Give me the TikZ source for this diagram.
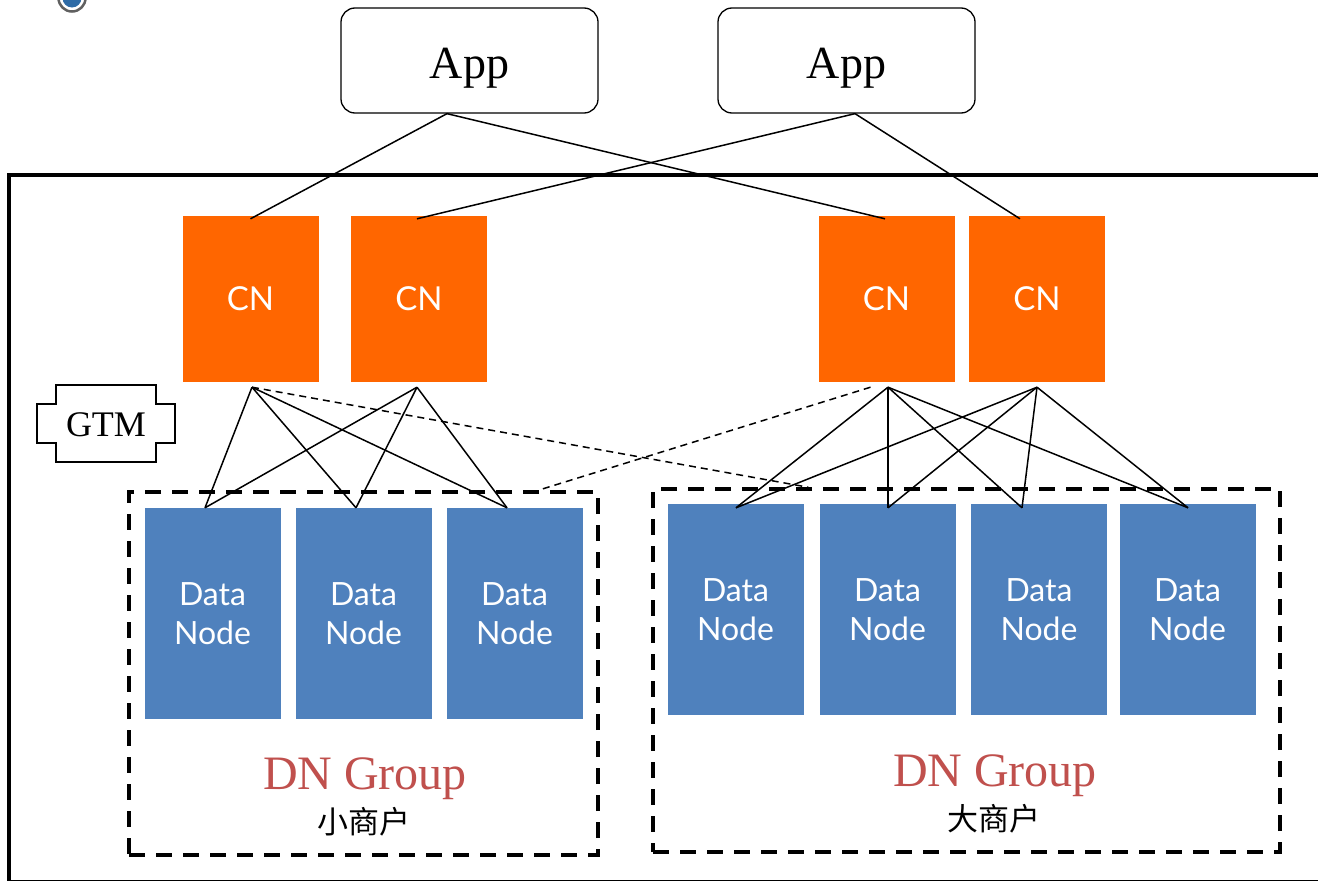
\documentclass[tikz,border=0pt]{standalone}
\usepackage{fontspec}
\setmainfont{Liberation Serif}
\newfontfamily\gillfont{Lato}
\newfontfamily\cjkfont{Noto Sans CJK SC}
\usetikzlibrary{calc}
\definecolor{cnorange}{HTML}{FF6600}
\definecolor{dnblue}{HTML}{4F81BD}
\definecolor{grpred}{HTML}{C0504D}
\definecolor{iconblue}{HTML}{2E6BA6}
\begin{document}
\begin{tikzpicture}[x=1pt,y=-1pt,
  appbox/.style={draw, line width=1.3pt, rounded corners=14pt, minimum width=257pt, minimum height=105pt, inner sep=0pt},
  apptext/.style={font=\fontsize{46}{50}\selectfont, inner sep=0pt, anchor=base},
  cnbox/.style={fill=cnorange, text=white, minimum width=136pt, minimum height=166pt, inner sep=0pt, text depth=0pt, font=\gillfont\fontsize{33}{38}\selectfont},
  dnbox/.style={fill=dnblue, text=white, minimum width=136pt, minimum height=211pt, inner sep=0pt, align=center, font=\gillfont\fontsize{32}{39}\selectfont},
  grpbox/.style={draw, line width=3.5pt, dash pattern=on 16pt off 11pt, inner sep=0pt},
  grptext/.style={text=grpred, font=\fontsize{48}{52}\selectfont, inner sep=0pt, anchor=base},
  cjktext/.style={font=\cjkfont\fontsize{31}{34}\selectfont, inner sep=0pt},
  link/.style={line width=1.5pt},
  dlink/.style={line width=1.5pt, dash pattern=on 7pt off 5pt}
]
\clip (0,0) rectangle (1318,881);
\fill[white] (0,0) rectangle (1318,881);

% top-left icon (partly visible)
\draw[gray!75!black, line width=2.5pt, fill=white] (72,-2) circle (13.5);
\fill[iconblue] (72,-2) circle (9.5);

% outer frame
\draw[line width=3.5pt] (9,175) rectangle (1345,882);

% App boxes
\node[appbox] (app1) at (469.5,60.5) {};
\node[appbox] (app2) at (846.5,60.5) {};
\node[apptext] (app1t) at ([yshift=-17.5pt]app1.center) {App};
\node[apptext] (app2t) at ([yshift=-17.5pt]app2.center) {App};

% CN nodes
\node[cnbox] (cn1) at (250.5,299) {CN};
\node[cnbox] (cn2) at (419,299) {CN};
\node[cnbox] (cn3) at (886.5,299) {CN};
\node[cnbox] (cn4) at (1037,299) {CN};

% GTM
\node[font=\fontsize{36}{40}\selectfont, inner sep=0pt] (gtm) at (106,424.5) {GTM};
\draw[line width=1.5pt, shift={(106,423.5)}]
  (-50,-38.5) -- (50,-38.5) -- (50,-19.5) -- (69,-19.5) -- (69,19.5) -- (50,19.5)
  -- (50,38.5) -- (-50,38.5) -- (-50,19.5) -- (-69,19.5) -- (-69,-19.5) -- (-50,-19.5) -- cycle;

% group boxes
\node[grpbox, minimum width=469pt, minimum height=363pt] (grpL) at (363.5,673.5) {};
\node[grpbox, minimum width=627pt, minimum height=363pt] (grpR) at (966.5,670.5) {};

% Data nodes
\node[dnbox] (dn1) at (212.5,613.5) {Data\\Node};
\node[dnbox] (dn2) at (363.5,613.5) {Data\\Node};
\node[dnbox] (dn3) at (514.5,613.5) {Data\\Node};
\node[dnbox] (dn4) at (735.5,609.5) {Data\\Node};
\node[dnbox] (dn5) at (887.5,609.5) {Data\\Node};
\node[dnbox] (dn6) at (1039,609.5) {Data\\Node};
\node[dnbox] (dn7) at (1187.5,609.5) {Data\\Node};

% group labels
\node[grptext] (gl1) at (365,789) {DN Group};
\node[cjktext] (gl1c) at (364,822) {小商户};
\node[grptext] (gl2) at (995,786) {DN Group};
\node[cjktext] (gl2c) at (994,819) {大商户};

% App -> CN links
\draw[link] ([xshift=-22.5pt]app1.south) -- ([yshift=-3pt]cn1.north);
\draw[link] ([xshift=-22.5pt]app1.south) -- ([xshift=-1.5pt,yshift=-3pt]cn3.north);
\draw[link] ([xshift=8.5pt]app2.south) -- ([xshift=-2pt,yshift=-3pt]cn2.north);
\draw[link] ([xshift=8.5pt]app2.south) -- ([xshift=-17pt,yshift=-3pt]cn4.north);

% anchor points at CN bottoms
\coordinate (c1) at ([xshift=1.5pt,yshift=-5pt]cn1.south);
\coordinate (c2) at ([xshift=-2pt,yshift=-5pt]cn2.south);
\coordinate (c3) at ([xshift=1.5pt,yshift=-5pt]cn3.south);
\coordinate (c4) at ([yshift=-5pt]cn4.south);

% anchor points at DN tops
\coordinate (t1) at ([xshift=-7.5pt]dn1.north);
\coordinate (t2) at ([xshift=-7.5pt]dn2.north);
\coordinate (t3) at ([xshift=-7.5pt]dn3.north);
\coordinate (t4) at ([xshift=0.5pt,yshift=-4pt]dn4.north);
\coordinate (t5) at ([xshift=0.5pt,yshift=-4pt]dn5.north);
\coordinate (t6) at ([xshift=-17pt,yshift=-4pt]dn6.north);
\coordinate (t7) at ([xshift=0.5pt,yshift=-4pt]dn7.north);

% CN -> DN links
\foreach \c in {c1,c2} {
  \foreach \t in {t1,t2,t3} { \draw[link] (\c) -- (\t); }
}
\foreach \c in {c3,c4} {
  \foreach \t in {t4,t5,t6,t7} { \draw[link] (\c) -- (\t); }
}

% dashed cross links
\coordinate (dR) at ([xshift=157pt]grpR.north west);
\coordinate (dL) at ([xshift=411pt]grpL.north west);
\draw[dlink] (c1) -- (dR);
\draw[dlink] ([xshift=-16pt,yshift=-5pt]cn3.south) -- (dL);
\end{tikzpicture}
\end{document}
